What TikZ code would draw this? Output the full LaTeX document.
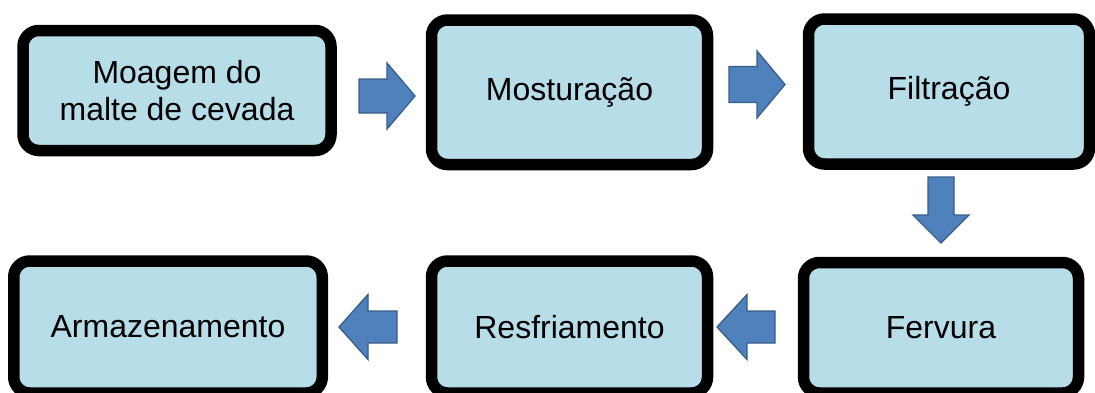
\documentclass[tikz,border=0pt]{standalone}
\usepackage{fontspec}
\setmainfont{Liberation Sans}
\definecolor{boxfill}{HTML}{B7DDE8}
\definecolor{arrfill}{HTML}{4F81BD}
\definecolor{arrline}{HTML}{385D8A}
\tikzset{
  stage/.style={draw=black, line width=11.5pt, fill=boxfill, rounded corners=16pt,
    inner sep=0pt, align=center, font=\fontsize{32}{36.5}\selectfont},
  blockarrow/.style={fill=arrfill, draw=arrline, line width=1.3pt, line join=miter},
  pics/barrow/.style n args={4}{code={
    \draw[blockarrow] (-#1,-#3) -- (0,-#3) -- (0,-#4) -- (#2,0) -- (0,#4) -- (0,#3) -- (-#1,#3) -- cycle;
  }}
}
\begin{document}
\begin{tikzpicture}[x=1pt,y=-1pt]
\useasboundingbox (0,0) rectangle (1095,392);
\clip (0,0) rectangle (1095,392);
\node[stage, minimum width=308pt, minimum height=120pt] (b1) at (177,90.5) {Moagem do\\malte de cevada};
\node[stage, minimum width=276pt, minimum height=144.5pt] (b2) at (569.5,92.25) {Mosturação};
\node[stage, minimum width=281pt, minimum height=145pt] (b3) at (949,91.5) {Filtração};
\node[stage, minimum width=275pt, minimum height=130.5pt] (b4) at (941,327.75) {Fervura};
\node[stage, minimum width=276pt, minimum height=132pt] (b5) at (569.5,327) {Resfriamento};
\node[stage, minimum width=308.5pt, minimum height=132pt] (b6) at (168,327) {Armazenamento};
\pic at (387,96) {barrow={28}{28}{17}{33}};
\pic at (757,84.5) {barrow={28}{28}{18}{33.5}};
\pic[rotate=-90] at (941,215) {barrow={38}{28}{13}{28}};
\pic[rotate=180] at (747,327) {barrow={28}{30}{16}{32.5}};
\pic[rotate=180] at (368,327) {barrow={29}{29}{16}{32.5}};
\end{tikzpicture}
\end{document}
